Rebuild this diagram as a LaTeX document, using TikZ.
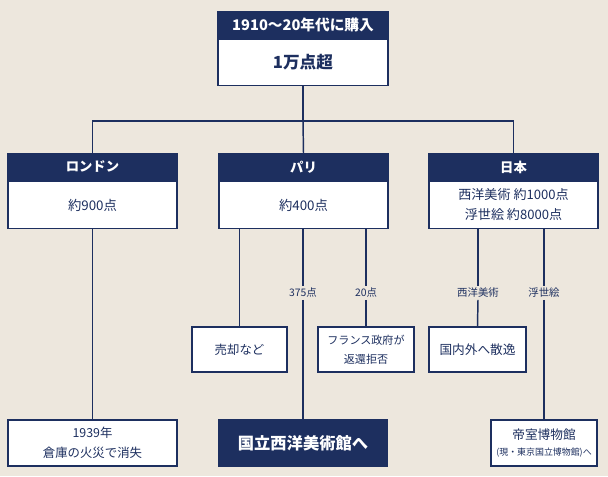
\documentclass[tikz,border=0pt]{standalone}
\usepackage{fontspec}
\setmainfont{Noto Sans CJK JP}
\definecolor{navy}{HTML}{1D2F5F}
\definecolor{paper}{HTML}{EDE7DD}
\def\px{0.75pt}
\begin{document}
\begin{tikzpicture}[x=0.75pt,y=-0.75pt,
  line width=1.1pt,
  conn/.style={draw=navy, line width=1.1pt},
  hdr/.style={draw=navy, fill=navy, text=white, inner sep=0pt, line width=1.1pt},
  bodybox/.style={draw=navy, fill=white, text=navy, inner sep=0pt, align=center, line width=1.1pt},
  darkbox/.style={draw=navy, fill=navy, text=white, inner sep=0pt, align=center, line width=1.1pt},
  lbl/.style={text=navy, inner sep=1pt, font=\fontsize{7.8}{9}\selectfont}
]
\useasboundingbox (0,0) rectangle (608,476);
\fill[paper] (0,0) rectangle (608,476);

% level 1
\node[hdr, minimum width=170*\px, minimum height=26*\px, font=\bfseries\fontsize{11}{13}\selectfont] (h0) at (303,25) {1910〜20年代に購入};
\node[bodybox, anchor=north, minimum width=170*\px, minimum height=46*\px, font=\bfseries\fontsize{12.5}{14}\selectfont] (b0) at (h0.south) {1万点超};

% level 2
\node[hdr, minimum width=169*\px, minimum height=26*\px, font=\bfseries\fontsize{10}{12}\selectfont] (lonH) at (92.5,167) {ロンドン};
\node[bodybox, anchor=north, minimum width=169*\px, minimum height=47*\px, font=\fontsize{10}{12}\selectfont] (lonB) at (lonH.south) {約900点};

\node[hdr, minimum width=169*\px, minimum height=26*\px, font=\bfseries\fontsize{10}{12}\selectfont] (paH) at (303.5,167) {パリ};
\node[bodybox, anchor=north, minimum width=169*\px, minimum height=47*\px, font=\fontsize{10}{12}\selectfont] (paB) at (paH.south) {約400点};

\node[hdr, minimum width=169*\px, minimum height=26*\px, font=\bfseries\fontsize{10}{12}\selectfont] (jpH) at (513.5,167) {日本};
\node[bodybox, anchor=north, minimum width=169*\px, minimum height=47*\px, font=\fontsize{9.8}{15}\selectfont] (jpB) at (jpH.south) {西洋美術 約1000点\\浮世絵 約8000点};

% level 3
\node[bodybox, minimum width=95*\px, minimum height=45*\px, font=\fontsize{9.3}{12}\selectfont] (uriB) at (239.5,349.5) {売却など};
\node[bodybox, minimum width=96*\px, minimum height=45*\px, font=\fontsize{8.3}{14}\selectfont] (fraB) at (366,349.5) {フランス政府が\\返還拒否};
\node[bodybox, minimum width=97*\px, minimum height=45*\px, font=\fontsize{9.5}{12}\selectfont] (kokunaiB) at (477.5,349.5) {国内外へ散逸};

% level 4
\node[bodybox, minimum width=169*\px, minimum height=46*\px, font=\fontsize{9.3}{15}\selectfont] (fireB) at (92.5,443) {1939年\\倉庫の火災で消失};
\node[darkbox, minimum width=168*\px, minimum height=46*\px, font=\bfseries\fontsize{12.2}{14}\selectfont] (kokuB) at (303,443) {国立西洋美術館へ};
\node[bodybox, minimum width=106*\px, minimum height=46*\px, font=\fontsize{9.5}{13}\selectfont] (teiB) at (544,443) {帝室博物館\\[-1pt]{\fontsize{6.7}{8}\selectfont (現・東京国立博物館)へ}};

% labels
\node[lbl] (l375) at (303,293) {375点};
\node[lbl] (l20) at (366,293) {20点};
\node[lbl] (lsei) at (478,293) {西洋美術};
\node[lbl] (luki) at (544,293) {浮世絵};

% connectors
\coordinate (bus) at (303,121);
\draw[conn] (b0.south) -- (bus);
\draw[conn] (lonH.north) |- (bus) -| (jpH.north);
\draw[conn] (bus) -- (paH.north);
\draw[conn] (lonB.south) -- (fireB.north);
\draw[conn] (paB.south -| uriB.north) -- (uriB.north);
\draw[conn] (paB.south -| l375.north) -- (l375.north);
\draw[conn] (l375.south) -- (kokuB.north);
\draw[conn] (paB.south -| l20.north) -- (l20.north);
\draw[conn] (l20.south) -- (fraB.north);
\draw[conn] (jpB.south -| lsei.north) -- (lsei.north);
\draw[conn] (lsei.south) -- (kokunaiB.north);
\draw[conn] (jpB.south -| luki.north) -- (luki.north);
\draw[conn] (luki.south) -- (teiB.north);
\end{tikzpicture}
\end{document}
